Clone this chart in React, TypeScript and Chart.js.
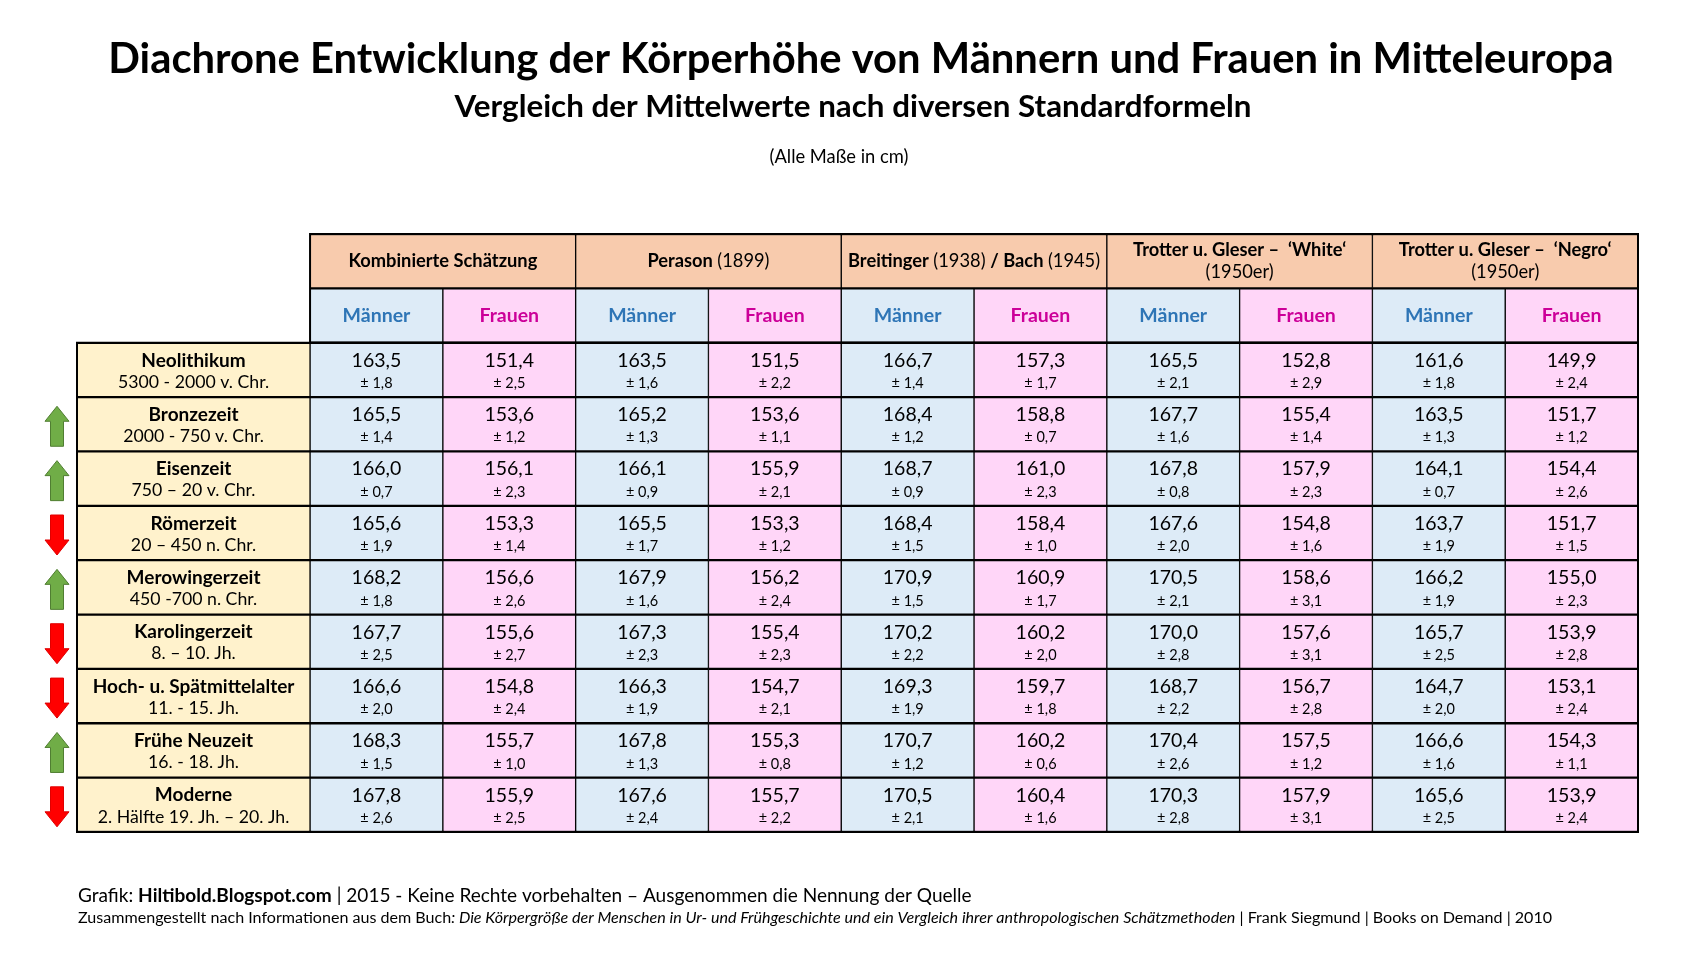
import React, { useEffect, useRef } from 'react';
import { Chart, registerables } from 'chart.js';
Chart.register(...registerables);

// ---------- DATA ----------
const periods = [
  'Neolithikum', 'Bronzezeit', 'Eisenzeit', 'Römerzeit', 'Merowingerzeit',
  'Karolingerzeit', 'Hoch- u. Spätmittelalter', 'Frühe Neuzeit', 'Moderne',
];
const periodDates = [
  '5300 - 2000 v. Chr.', '2000 - 750 v. Chr.', '750 – 20 v. Chr.', '20 – 450 n. Chr.',
  '450 -700 n. Chr.', '8. – 10. Jh.', '11. - 15. Jh.', '16. - 18. Jh.', '2. Hälfte 19. Jh. – 20. Jh.',
];
const trend = ['', 'up', 'up', 'down', 'up', 'down', 'down', 'up', 'down'];

// header lines: each line is a list of [text, bold]
const methodHeaders: [string, boolean][][][] = [
  [[['Kombinierte Schätzung', true]]],
  [[['Perason ', true], ['(1899)', false]]],
  [[['Breitinger ', true], ['(1938) ', false], ['/ Bach ', true], ['(1945)', false]]],
  [[['Trotter u. Gleser –  ‘White‘', true]], [['(1950er)', false]]],
  [[['Trotter u. Gleser –  ‘Negro‘', true]], [['(1950er)', false]]],
];
const sexes = ['Männer', 'Frauen'];

const kombM = [163.5, 165.5, 166.0, 165.6, 168.2, 167.7, 166.6, 168.3, 167.8];
const kombMsd = [1.8, 1.4, 0.7, 1.9, 1.8, 2.5, 2.0, 1.5, 2.6];
const kombF = [151.4, 153.6, 156.1, 153.3, 156.6, 155.6, 154.8, 155.7, 155.9];
const kombFsd = [2.5, 1.2, 2.3, 1.4, 2.6, 2.7, 2.4, 1.0, 2.5];
const pearM = [163.5, 165.2, 166.1, 165.5, 167.9, 167.3, 166.3, 167.8, 167.6];
const pearMsd = [1.6, 1.3, 0.9, 1.7, 1.6, 2.3, 1.9, 1.3, 2.4];
const pearF = [151.5, 153.6, 155.9, 153.3, 156.2, 155.4, 154.7, 155.3, 155.7];
const pearFsd = [2.2, 1.1, 2.1, 1.2, 2.4, 2.3, 2.1, 0.8, 2.2];
const breitM = [166.7, 168.4, 168.7, 168.4, 170.9, 170.2, 169.3, 170.7, 170.5];
const breitMsd = [1.4, 1.2, 0.9, 1.5, 1.5, 2.2, 1.9, 1.2, 2.1];
const bachF = [157.3, 158.8, 161.0, 158.4, 160.9, 160.2, 159.7, 160.2, 160.4];
const bachFsd = [1.7, 0.7, 2.3, 1.0, 1.7, 2.0, 1.8, 0.6, 1.6];
const tgwM = [165.5, 167.7, 167.8, 167.6, 170.5, 170.0, 168.7, 170.4, 170.3];
const tgwMsd = [2.1, 1.6, 0.8, 2.0, 2.1, 2.8, 2.2, 2.6, 2.8];
const tgwF = [152.8, 155.4, 157.9, 154.8, 158.6, 157.6, 156.7, 157.5, 157.9];
const tgwFsd = [2.9, 1.4, 2.3, 1.6, 3.1, 3.1, 2.8, 1.2, 3.1];
const tgnM = [161.6, 163.5, 164.1, 163.7, 166.2, 165.7, 164.7, 166.6, 165.6];
const tgnMsd = [1.8, 1.3, 0.7, 1.9, 1.9, 2.5, 2.0, 1.6, 2.5];
const tgnF = [149.9, 151.7, 154.4, 151.7, 155.0, 153.9, 153.1, 154.3, 153.9];
const tgnFsd = [2.4, 1.2, 2.6, 1.5, 2.3, 2.8, 2.4, 1.1, 2.4];

const valueCols = [kombM, kombF, pearM, pearF, breitM, bachF, tgwM, tgwF, tgnM, tgnF];
const sdCols = [kombMsd, kombFsd, pearMsd, pearFsd, breitMsd, bachFsd, tgwMsd, tgwFsd, tgnMsd, tgnFsd];

const titleText = 'Diachrone Entwicklung der Körperhöhe von Männern und Frauen in Mitteleuropa';
const subtitleText = 'Vergleich der Mittelwerte nach diversen Standardformeln';
const noteText = '(Alle Maße in cm)';
const footer1: [string, string][] = [
  ['Grafik: ', 'normal'], ['Hiltibold.Blogspot.com', 'bold'],
  [' | 2015 - Keine Rechte vorbehalten – Ausgenommen die Nennung der Quelle', 'normal'],
];
const footer2: [string, string][] = [
  ['Zusammengestellt nach Informationen aus dem Buch', 'normal'],
  [': Die Körpergröße der Menschen in Ur- und Frühgeschichte und ein Vergleich ihrer anthropologischen Schätzmethoden', 'italic'],
  [' | Frank Siegmund | Books on Demand | 2010', 'normal'],
];

// ---------- STYLE ----------
const FONT = 'Lato, "Open Sans", sans-serif';
const C_HEAD = '#F8CBAD';
const C_BLUE = '#DDEBF7';
const C_PINK = '#FFD6F8';
const C_LABEL = '#FFF2CC';
const C_MEN = '#2E75B6';
const C_WOMEN = '#CC0099';
const LABEL_W = 1.755; // label column width in column units

const fmt = (v: number) => v.toFixed(1).replace('.', ',');

function fontStr(style: string, size: number) {
  if (style === 'bold') return `bold ${size}px ${FONT}`;
  if (style === 'italic') return `italic ${size}px ${FONT}`;
  return `${size}px ${FONT}`;
}

function segWidth(ctx: CanvasRenderingContext2D, segs: [string, string][], size: number) {
  let w = 0;
  for (const [t, s] of segs) { ctx.font = fontStr(s, size); w += ctx.measureText(t).width; }
  return w;
}

function drawSegs(ctx: CanvasRenderingContext2D, segs: [string, string][], x: number, y: number,
  size: number, color: string, align: 'center' | 'left') {
  const w = segWidth(ctx, segs, size);
  let cx = align === 'center' ? x - w / 2 : x;
  ctx.fillStyle = color;
  ctx.textAlign = 'left';
  ctx.textBaseline = 'middle';
  for (const [t, s] of segs) {
    ctx.font = fontStr(s, size);
    ctx.fillText(t, cx, y);
    cx += ctx.measureText(t).width;
  }
}

function drawFitted(ctx: CanvasRenderingContext2D, segs: [string, string][], x: number, y: number,
  targetW: number, color: string, align: 'center' | 'left') {
  const w = segWidth(ctx, segs, 100);
  const size = (100 * targetW) / w;
  drawSegs(ctx, segs, x, y, size, color, align);
}

function drawArrow(ctx: CanvasRenderingContext2D, cx: number, cy: number, up: boolean) {
  const H = 40, HW = 12, SW = 6.5, HH = 15;
  const d = up ? -1 : 1;
  const tip = cy + d * H / 2;
  const back = cy - d * H / 2;
  const neck = tip - d * HH;
  ctx.beginPath();
  ctx.moveTo(cx, tip);
  ctx.lineTo(cx + HW, neck);
  ctx.lineTo(cx + SW, neck);
  ctx.lineTo(cx + SW, back);
  ctx.lineTo(cx - SW, back);
  ctx.lineTo(cx - SW, neck);
  ctx.lineTo(cx - HW, neck);
  ctx.closePath();
  ctx.fillStyle = up ? '#70AD47' : '#FF0000';
  ctx.fill();
  ctx.lineWidth = 1;
  ctx.strokeStyle = up ? '#507E32' : '#E00000';
  ctx.stroke();
}

const tablePlugin = {
  id: 'tableText',
  beforeDraw(chart: any) {
    const ctx = chart.ctx;
    ctx.save();
    ctx.fillStyle = '#FFFFFF';
    ctx.fillRect(0, 0, chart.width, chart.height);
    ctx.restore();
  },
  afterDatasetsDraw(chart: any) {
    const ctx: CanvasRenderingContext2D = chart.ctx;
    const xs = chart.scales.x;
    const ys = chart.scales.y;
    ctx.save();

    const box = (dsIndex: number, row: number) => {
      const el = chart.getDatasetMeta(dsIndex).data[row];
      const p = el.getProps(['x', 'y', 'base', 'height'], true);
      return { cx: (p.x + p.base) / 2, cy: p.y, h: p.height };
    };

    // outer frame
    const x0 = xs.getPixelForValue(0);
    const xL = xs.getPixelForValue(LABEL_W);
    const x1 = xs.getPixelForValue(LABEL_W + 10);
    const band = (ys.getPixelForValue(1) - ys.getPixelForValue(0));
    const yTop = ys.getPixelForValue(0) - band / 2;
    const yData = ys.getPixelForValue(2) - band / 2;
    const yBot = ys.getPixelForValue(periods.length + 1) + band / 2;
    ctx.beginPath();
    ctx.moveTo(xL, yTop); ctx.lineTo(x1, yTop); ctx.lineTo(x1, yBot);
    ctx.lineTo(x0, yBot); ctx.lineTo(x0, yData); ctx.lineTo(xL, yData); ctx.closePath();
    ctx.moveTo(x0, yData); ctx.lineTo(x1, yData);
    ctx.lineWidth = 2;
    ctx.strokeStyle = '#000';
    ctx.stroke();

    // method headers (datasets 1..5, row 0)
    methodHeaders.forEach((lines, m) => {
      const b = box(1 + m, 0);
      const lh = 22;
      lines.forEach((line, li) => {
        const y = b.cy + (li - (lines.length - 1) / 2) * lh;
        drawSegs(ctx, line.map(([t, bold]) => [t, bold ? 'bold' : 'normal']), b.cx, y, 18.3, '#000', 'center');
      });
    });

    // sub columns (datasets 6..15)
    valueCols.forEach((vals, j) => {
      const ds = 6 + j;
      const hb = box(ds, 1);
      drawSegs(ctx, [[sexes[j % 2], 'bold']], hb.cx, hb.cy, 19.5, j % 2 ? C_WOMEN : C_MEN, 'center');
      vals.forEach((v, r) => {
        const b = box(ds, r + 2);
        drawSegs(ctx, [[fmt(v), 'normal']], b.cx, b.cy - 9.5, 19.5, '#000', 'center');
        drawSegs(ctx, [['± ' + fmt(sdCols[j][r]), 'normal']], b.cx, b.cy + 13.5, 14.5, '#000', 'center');
      });
    });

    // period labels (dataset 0)
    periods.forEach((p, r) => {
      const b = box(0, r + 2);
      drawSegs(ctx, [[p, 'bold']], b.cx, b.cy - 9.5, 19, '#000', 'center');
      drawSegs(ctx, [[periodDates[r], 'normal']], b.cx, b.cy + 12, 17.7, '#000', 'center');
      if (trend[r]) drawArrow(ctx, x0 - 20, b.cy + 2, trend[r] === 'up');
    });

    // titles & footer
    drawFitted(ctx, [[titleText, 'bold']], 861, 60, 1506, '#000', 'center');
    drawFitted(ctx, [[subtitleText, 'bold']], 853, 107, 797, '#000', 'center');
    drawFitted(ctx, [[noteText, 'normal']], 839, 157, 139, '#000', 'center');
    drawFitted(ctx, footer1, 78, 896, 894, '#000', 'left');
    drawFitted(ctx, footer2, 78, 918, 1475, '#000', 'left');

    ctx.restore();
  },
};

export default function App() {
  const ref = useRef<HTMLCanvasElement>(null);
  useEffect(() => {
    if (!ref.current) return;
    const rows = ['Methode', 'Geschlecht', ...periods];
    const cellBorder = { top: 1.5, bottom: 1.5, left: 1, right: 1 };
    const base = {
      grouped: false, barPercentage: 1, categoryPercentage: 1,
      borderColor: '#000', borderWidth: cellBorder, borderSkipped: false,
    };
    const datasets: any[] = [];
    datasets.push({
      ...base, label: 'Epoche', backgroundColor: C_LABEL,
      data: rows.map((_, r) => (r >= 2 ? [0, LABEL_W] : null)),
    });
    methodHeaders.forEach((_, m) => {
      datasets.push({
        ...base, label: 'Methode ' + m, backgroundColor: C_HEAD,
        data: rows.map((_, r) => (r === 0 ? [LABEL_W + 2 * m, LABEL_W + 2 * m + 2] : null)),
      });
    });
    valueCols.forEach((_, j) => {
      datasets.push({
        ...base, label: 'Spalte ' + j, backgroundColor: j % 2 ? C_PINK : C_BLUE,
        data: rows.map((_, r) => (r >= 1 ? [LABEL_W + j, LABEL_W + j + 1] : null)),
      });
    });
    const chart = new Chart(ref.current, {
      type: 'bar',
      data: { labels: rows, datasets },
      options: {
        indexAxis: 'y',
        animation: false,
        responsive: false,
        events: [],
        layout: { padding: { left: 77, right: 1691 - 1638, top: 234, bottom: 975 - 832 } },
        plugins: { legend: { display: false }, tooltip: { enabled: false }, title: { display: false } },
        scales: {
          x: { type: 'linear', min: 0, max: LABEL_W + 10, display: false },
          y: { type: 'category', display: false, offset: true },
        },
      } as any,
      plugins: [tablePlugin],
    });
    return () => chart.destroy();
  }, []);
  return (
    <div style={{ position: 'fixed', left: 0, top: 0, width: 1691, height: 975, background: '#fff' }}>
      <canvas ref={ref} width={1691} height={975} style={{ width: 1691, height: 975, display: 'block' }} />
    </div>
  );
}
